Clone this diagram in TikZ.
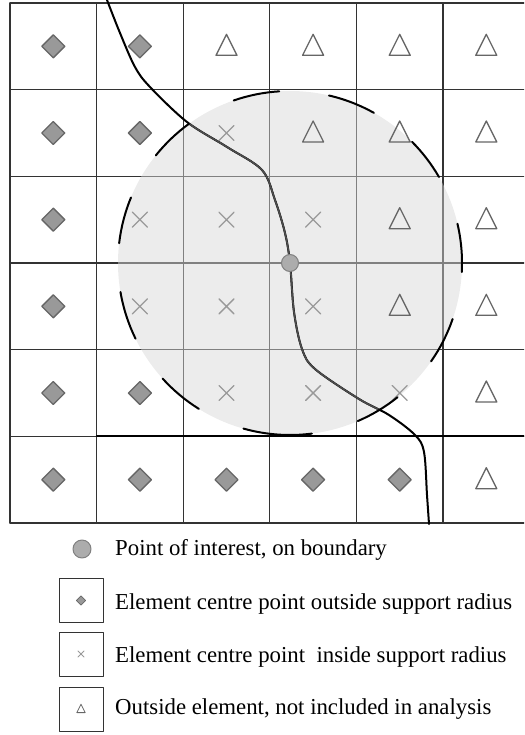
\documentclass[tikz,border=0pt]{standalone}
\usepackage{fontspec}
\setmainfont{Liberation Serif}
\usepackage{tikz}

\begin{document}
\begin{tikzpicture}[x=1pt, y=-1pt, line cap=round, line join=round,
  gridline/.style={black!80, line width=1.1pt},
  edgeline/.style={black, line width=2pt},
  rimdash/.style={black, line width=2pt},
  mk/.style={line width=1.3pt},
  legbox/.style={draw=black!80, line width=0.9pt, minimum size=44pt, inner sep=0pt},
  legtext/.style={anchor=base west, inner sep=0pt, font=\fontsize{22.8}{27}\selectfont},
  poidot/.style={circle, draw=black!50, fill=gray!65, line width=1pt, minimum size=17pt, inner sep=0pt},
  diam/.pic={\draw[black!60, fill=gray!80, mk] (-11.5pt,0pt) -- (0pt,-11.5pt) -- (11.5pt,0pt) -- (0pt,11.5pt) -- cycle;},
  tri/.pic={\draw[black!60, mk] (-10.5pt,-9pt) -- (10.5pt,-9pt) -- (0pt,12pt) -- cycle;},
  xmark/.pic={\draw[black!40, mk] (-7.5pt,-7.5pt) -- (7.5pt,7.5pt) (-7.5pt,7.5pt) -- (7.5pt,-7.5pt);}
]
  \useasboundingbox (0,0) rectangle (524,735);
  \clip (0,0) rectangle (524,735);
  \coordinate (poi) at (290,263);
  % ===== support radius (shaded disc) =====
  \fill[gray!15] (poi) circle[radius=172pt];
  % ===== element grid =====
  \foreach \k in {0,...,6} {
    \draw[gridline] ({10+86.6*\k},3) -- ({10+86.6*\k},523);
    \draw[gridline] (10,{3+86.67*\k}) -- (530,{3+86.67*\k});
  }
  % lines inside the disc are lighter
  \begin{scope}
    \clip (poi) circle[radius=172pt];
    \foreach \k in {0,...,6} {
      \draw[gridline, black!50] ({10+86.6*\k},3) -- ({10+86.6*\k},523);
      \draw[gridline, black!50] (10,{3+86.67*\k}) -- (530,{3+86.67*\k});
    }
  \end{scope}
  % ===== element centre markers (column/row) =====
  \foreach \c/\r in {1/1,2/1,1/2,2/2,1/3,1/4,1/5,2/5,1/6,2/6,3/6,4/6,5/6}
    \pic at ({10+86.6*(\c-0.5)},{3+86.67*(\r-0.5)}) {diam};
  \foreach \c/\r in {3/2,2/3,3/3,4/3,2/4,3/4,4/4,3/5,4/5,5/5}
    \pic at ({10+86.6*(\c-0.5)},{3+86.67*(\r-0.5)}) {xmark};
  \foreach \c/\r in {3/1,4/1,5/1,6/1,4/2,5/2,6/2,5/3,6/3,5/4,6/4,6/5,6/6}
    \pic at ({10+86.6*(\c-0.5)},{3+86.67*(\r-0.5)}) {tri};
  % ===== domain boundary =====
  \draw[edgeline] plot[smooth, tension=0.55] coordinates {(107,0) (120,33) (135,67)
    (150,87) (187,122) (227,147) (262,170) (275,200) (285,233) (290,263) (294,312)
    (302,349) (315,369) (359,399) (389,415) (415,435) (424,452) (427,495) (429,524)};
  \begin{scope}
    \clip (poi) circle[radius=172pt];
    \draw[edgeline, black!70, line width=1.6pt] plot[smooth, tension=0.55] coordinates {(107,0) (120,33) (135,67)
      (150,87) (187,122) (227,147) (262,170) (275,200) (285,233) (290,263) (294,312)
      (302,349) (315,369) (359,399) (389,415) (415,435) (424,452) (427,495) (429,524)};
  \end{scope}
  \draw[edgeline, line width=2.4pt] (97,436) -- (530,436);
  % ===== dashed rim of the support radius =====
  \foreach \a/\b in {93.6/109.1, 60.8/76.9, 30/44.8, -3/13.2, -34.9/-19, -66.8/-51.3,
      -105.7/-82.7, -137.8/-122, -170.3/-153.9, 157.6/173.4, 126/141.3}
    \draw[rimdash] (poi) ++(\a:172pt) arc[start angle=\a, end angle=\b, radius=172pt];
  \node[poidot] (dot) at (poi) {};
  % ===== legend =====
  \node[poidot, minimum size=18pt] (keyPoi) at (82,549) {};
  \node[legtext] (txtPoi) at (115,555) {Point of interest, on boundary};
  \node[legbox] (boxOut) at (81,600.5) {};
  \pic[scale=0.4, mk/.style={line width=0.8pt}] at (boxOut.center) {diam};
  \node[legtext] (txtOut) at (115,609) {Element centre point outside support radius};
  \node[legbox] (boxIn) at (81,654) {};
  \pic[scale=0.4, mk/.style={line width=0.8pt}] at (boxIn.center) {xmark};
  \node[legtext] (txtIn) at (115,662) {Element centre point~ inside support radius};
  \node[legbox] (boxExc) at (81,709) {};
  \pic[scale=0.4, mk/.style={line width=0.8pt}] at (boxExc.center) {tri};
  \node[legtext] (txtExc) at (115,714) {Outside element, not included in analysis};
\end{tikzpicture}
\end{document}
